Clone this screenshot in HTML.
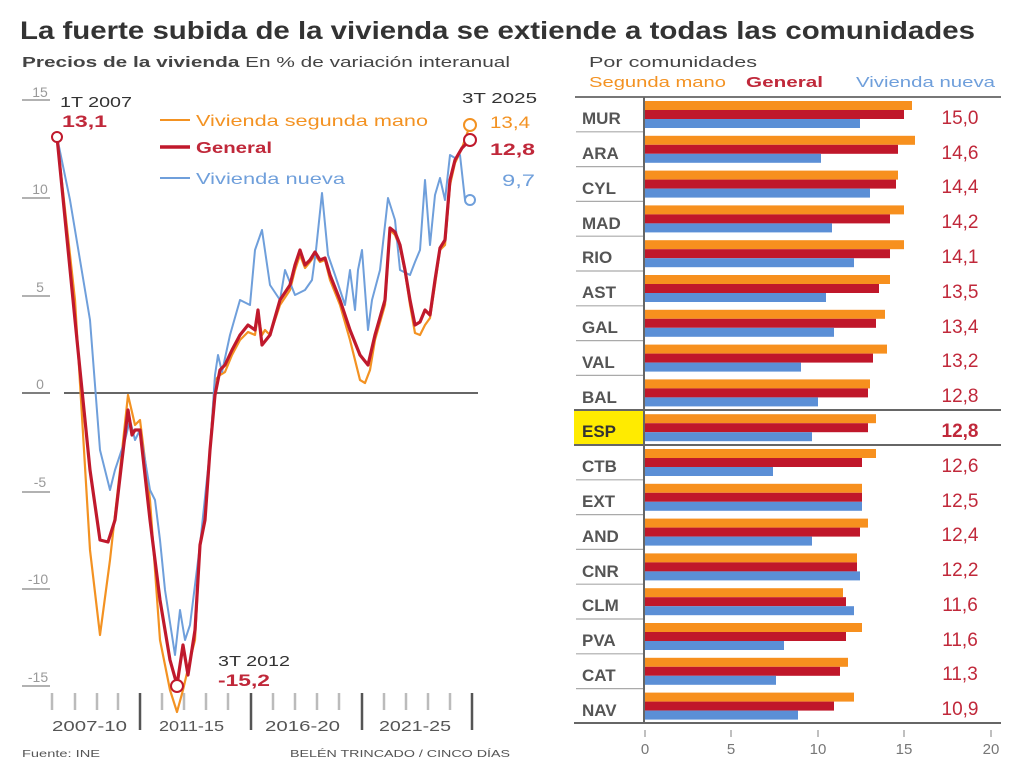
<!DOCTYPE html>
<html><head><meta charset="utf-8"><style>
body{margin:0;background:#fff;}
svg{display:block;font-family:"Liberation Sans",sans-serif;}
</style></head><body>
<svg width="1024" height="768" viewBox="0 0 1024 768" xmlns="http://www.w3.org/2000/svg">
<rect width="1024" height="768" fill="#fff"/>
<text x="20" y="39" font-size="25" font-weight="bold" fill="#333" textLength="955" lengthAdjust="spacingAndGlyphs">La fuerte subida de la vivienda se extiende a todas las comunidades</text>
<text x="22" y="67" font-size="15" fill="#444" textLength="488" lengthAdjust="spacingAndGlyphs"><tspan font-weight="bold">Precios de la vivienda</tspan> En % de variación interanual</text>
<g stroke="#999" stroke-width="1.5">
<line x1="22" y1="100" x2="50" y2="100"/><line x1="22" y1="198" x2="50" y2="198"/><line x1="22" y1="296" x2="50" y2="296"/><line x1="22" y1="492" x2="50" y2="492"/><line x1="22" y1="589" x2="50" y2="589"/><line x1="22" y1="686" x2="50" y2="686"/>
</g>
<line x1="22" y1="393" x2="50" y2="393" stroke="#555" stroke-width="1.5"/>
<line x1="64" y1="393" x2="478" y2="393" stroke="#333" stroke-width="1.5"/>
<g font-size="14" fill="#999" text-anchor="middle">
<text x="40" y="97">15</text><text x="40" y="194">10</text><text x="40" y="292">5</text><text x="40" y="389">0</text><text x="40" y="487">-5</text><text x="38" y="584">-10</text><text x="38" y="682">-15</text>
</g>
<g stroke="#bbb" stroke-width="2.5">
<line x1="52" y1="693" x2="52" y2="710"/><line x1="75" y1="693" x2="75" y2="710"/><line x1="97" y1="693" x2="97" y2="710"/><line x1="118" y1="693" x2="118" y2="710"/>
<line x1="162" y1="693" x2="162" y2="710"/><line x1="184" y1="693" x2="184" y2="710"/><line x1="206" y1="693" x2="206" y2="710"/><line x1="228" y1="693" x2="228" y2="710"/>
<line x1="273" y1="693" x2="273" y2="710"/><line x1="295" y1="693" x2="295" y2="710"/><line x1="317" y1="693" x2="317" y2="710"/><line x1="339" y1="693" x2="339" y2="710"/>
<line x1="384" y1="693" x2="384" y2="710"/><line x1="406" y1="693" x2="406" y2="710"/><line x1="428" y1="693" x2="428" y2="710"/><line x1="450" y1="693" x2="450" y2="710"/>
</g>
<g stroke="#555" stroke-width="2.5">
<line x1="140" y1="693" x2="140" y2="730"/><line x1="251" y1="693" x2="251" y2="730"/><line x1="362" y1="693" x2="362" y2="730"/><line x1="472" y1="693" x2="472" y2="730"/>
</g>
<g font-size="15" fill="#555">
<text x="52" y="731" textLength="75" lengthAdjust="spacingAndGlyphs">2007-10</text><text x="159" y="731" textLength="65" lengthAdjust="spacingAndGlyphs">2011-15</text><text x="265" y="731" textLength="75" lengthAdjust="spacingAndGlyphs">2016-20</text><text x="379" y="731" textLength="72" lengthAdjust="spacingAndGlyphs">2021-25</text>
</g>
<text x="22" y="757" font-size="10" fill="#555" textLength="78" lengthAdjust="spacingAndGlyphs">Fuente: INE</text>
<text x="290" y="757" font-size="10" fill="#555" textLength="220" lengthAdjust="spacingAndGlyphs">BELÉN TRINCADO / CINCO DÍAS</text>
<polyline fill="none" stroke="#f39222" stroke-width="2.2" stroke-linejoin="round" points="57,137 75,300 90,550 100,635 110,560 120,470 128,395 135,425 140,420 150,500 160,640 170,690 177,712 183,690 190,660 195,640 200,545 205,520 210,450 215,380 220,375 225,372 232,355 240,340 248,332 255,335 258,315 262,335 265,330 270,335 280,305 290,290 295,270 300,255 305,268 310,262 315,255 320,262 325,260 330,280 340,305 350,340 360,380 365,383 370,370 375,340 385,305 390,230 395,235 400,248 405,272 410,305 415,333 420,335 425,325 430,318 435,285 440,250 445,245 450,185 455,163 462,148 470,125"/>
<polyline fill="none" stroke="#6f9fdb" stroke-width="2" stroke-linejoin="round" points="57,137 70,200 90,320 100,450 110,490 115,470 125,440 130,420 135,440 140,430 150,490 155,500 160,540 165,590 175,655 180,610 185,640 190,625 200,545 210,450 215,375 218,355 222,372 230,335 240,300 250,305 255,250 262,230 270,285 280,300 285,270 295,295 305,290 312,280 316,250 322,193 328,255 335,275 340,290 345,305 350,270 355,310 358,270 362,250 368,330 372,300 380,270 388,198 395,220 400,270 410,275 415,262 420,250 425,180 430,245 435,195 440,178 445,200 450,155 455,158 460,155 465,200 470,200"/>
<polyline fill="none" stroke="#c0192c" stroke-width="3.2" stroke-linejoin="round" points="57,137 75,320 90,470 100,540 108,542 115,520 122,460 128,410 132,435 135,430 140,430 150,520 160,600 170,660 177,685 183,645 188,675 195,630 200,545 205,520 210,450 215,395 220,370 225,365 232,350 240,335 248,325 255,330 258,310 262,345 270,335 280,300 290,285 295,265 300,250 305,265 310,260 315,252 320,260 325,258 330,275 340,300 350,330 360,355 368,365 375,335 385,300 390,228 395,232 400,245 405,270 410,300 415,325 420,322 425,310 430,315 435,280 440,248 445,240 450,180 455,160 462,148 470,140"/>
<g fill="#fff" stroke-width="2">
<circle cx="57" cy="137" r="5" stroke="#c0192c"/><circle cx="177" cy="686" r="6" stroke="#c0192c"/>
<circle cx="470" cy="125" r="6" stroke="#f39222"/><circle cx="470" cy="140" r="6" stroke="#c0192c"/><circle cx="470" cy="200" r="5" stroke="#6f9fdb"/>
</g>
<text x="60" y="107" font-size="15" fill="#333" textLength="72" lengthAdjust="spacingAndGlyphs">1T 2007</text>
<text x="62" y="127" font-size="17" font-weight="bold" fill="#c0283a" textLength="45" lengthAdjust="spacingAndGlyphs">13,1</text>
<text x="218" y="666" font-size="15" fill="#333" textLength="72" lengthAdjust="spacingAndGlyphs">3T 2012</text>
<text x="218" y="686" font-size="17" font-weight="bold" fill="#c0283a" textLength="52" lengthAdjust="spacingAndGlyphs">-15,2</text>
<text x="462" y="103" font-size="15" fill="#333" textLength="75" lengthAdjust="spacingAndGlyphs">3T 2025</text>
<text x="490" y="128" font-size="17" fill="#f39222" textLength="40" lengthAdjust="spacingAndGlyphs">13,4</text>
<text x="490" y="155" font-size="17" font-weight="bold" fill="#c0283a" textLength="45" lengthAdjust="spacingAndGlyphs">12,8</text>
<text x="502" y="186" font-size="17" fill="#6f9fdb" textLength="33" lengthAdjust="spacingAndGlyphs">9,7</text>
<line x1="160" y1="120" x2="190" y2="120" stroke="#f39222" stroke-width="2"/>
<text x="196" y="126" font-size="16" fill="#f39222" textLength="232" lengthAdjust="spacingAndGlyphs">Vivienda segunda mano</text>
<line x1="160" y1="147" x2="190" y2="147" stroke="#c0192c" stroke-width="3.5"/>
<text x="196" y="153" font-size="16" font-weight="bold" fill="#c0283a" textLength="76" lengthAdjust="spacingAndGlyphs">General</text>
<line x1="160" y1="178" x2="190" y2="178" stroke="#6f9fdb" stroke-width="2"/>
<text x="196" y="184" font-size="16" fill="#6f9fdb" textLength="149" lengthAdjust="spacingAndGlyphs">Vivienda nueva</text>
<text x="589" y="67" font-size="15" fill="#444" textLength="168" lengthAdjust="spacingAndGlyphs">Por comunidades</text>
<text x="589" y="87" font-size="15" fill="#f39222" textLength="137" lengthAdjust="spacingAndGlyphs">Segunda mano</text>
<text x="746" y="87" font-size="15" font-weight="bold" fill="#c0283a" textLength="77" lengthAdjust="spacingAndGlyphs">General</text>
<text x="856" y="87" font-size="15" fill="#6f9fdb" textLength="139" lengthAdjust="spacingAndGlyphs">Vivienda nueva</text>
<line x1="575" y1="97" x2="1001" y2="97" stroke="#777" stroke-width="2"/>
<rect x="574" y="411" width="70" height="34" fill="#ffeb00"/>
<g stroke="#aaa" stroke-width="1.2">
<line x1="576" y1="131.8" x2="643" y2="131.8"/><line x1="576" y1="166.6" x2="643" y2="166.6"/><line x1="576" y1="201.4" x2="643" y2="201.4"/><line x1="576" y1="236.2" x2="643" y2="236.2"/><line x1="576" y1="271" x2="643" y2="271"/><line x1="576" y1="305.8" x2="643" y2="305.8"/><line x1="576" y1="340.6" x2="643" y2="340.6"/><line x1="576" y1="375.4" x2="643" y2="375.4"/><line x1="576" y1="479.8" x2="643" y2="479.8"/><line x1="576" y1="514.6" x2="643" y2="514.6"/><line x1="576" y1="549.4" x2="643" y2="549.4"/><line x1="576" y1="584.2" x2="643" y2="584.2"/><line x1="576" y1="619" x2="643" y2="619"/><line x1="576" y1="653.8" x2="643" y2="653.8"/><line x1="576" y1="688.6" x2="643" y2="688.6"/>
</g>
<g stroke="#666" stroke-width="2"><line x1="574" y1="410" x2="1001" y2="410"/><line x1="574" y1="445" x2="1001" y2="445"/><line x1="574" y1="723" x2="1001" y2="723"/></g>
<g>
<g transform="translate(0,97)"><rect x="645" y="4" width="267" height="9" fill="#f7901e"/><rect x="645" y="13" width="259" height="9" fill="#c0172a"/><rect x="645" y="22" width="215" height="9" fill="#5b8fd6"/></g>
<g transform="translate(0,131.8)"><rect x="645" y="4" width="270" height="9" fill="#f7901e"/><rect x="645" y="13" width="253" height="9" fill="#c0172a"/><rect x="645" y="22" width="176" height="9" fill="#5b8fd6"/></g>
<g transform="translate(0,166.6)"><rect x="645" y="4" width="253" height="9" fill="#f7901e"/><rect x="645" y="13" width="251" height="9" fill="#c0172a"/><rect x="645" y="22" width="225" height="9" fill="#5b8fd6"/></g>
<g transform="translate(0,201.4)"><rect x="645" y="4" width="259" height="9" fill="#f7901e"/><rect x="645" y="13" width="245" height="9" fill="#c0172a"/><rect x="645" y="22" width="187" height="9" fill="#5b8fd6"/></g>
<g transform="translate(0,236.2)"><rect x="645" y="4" width="259" height="9" fill="#f7901e"/><rect x="645" y="13" width="245" height="9" fill="#c0172a"/><rect x="645" y="22" width="209" height="9" fill="#5b8fd6"/></g>
<g transform="translate(0,271)"><rect x="645" y="4" width="245" height="9" fill="#f7901e"/><rect x="645" y="13" width="234" height="9" fill="#c0172a"/><rect x="645" y="22" width="181" height="9" fill="#5b8fd6"/></g>
<g transform="translate(0,305.8)"><rect x="645" y="4" width="240" height="9" fill="#f7901e"/><rect x="645" y="13" width="231" height="9" fill="#c0172a"/><rect x="645" y="22" width="189" height="9" fill="#5b8fd6"/></g>
<g transform="translate(0,340.6)"><rect x="645" y="4" width="242" height="9" fill="#f7901e"/><rect x="645" y="13" width="228" height="9" fill="#c0172a"/><rect x="645" y="22" width="156" height="9" fill="#5b8fd6"/></g>
<g transform="translate(0,375.4)"><rect x="645" y="4" width="225" height="9" fill="#f7901e"/><rect x="645" y="13" width="223" height="9" fill="#c0172a"/><rect x="645" y="22" width="173" height="9" fill="#5b8fd6"/></g>
<g transform="translate(0,410.2)"><rect x="645" y="4" width="231" height="9" fill="#f7901e"/><rect x="645" y="13" width="223" height="9" fill="#c0172a"/><rect x="645" y="22" width="167" height="9" fill="#5b8fd6"/></g>
<g transform="translate(0,445)"><rect x="645" y="4" width="231" height="9" fill="#f7901e"/><rect x="645" y="13" width="217" height="9" fill="#c0172a"/><rect x="645" y="22" width="128" height="9" fill="#5b8fd6"/></g>
<g transform="translate(0,479.8)"><rect x="645" y="4" width="217" height="9" fill="#f7901e"/><rect x="645" y="13" width="217" height="9" fill="#c0172a"/><rect x="645" y="22" width="217" height="9" fill="#5b8fd6"/></g>
<g transform="translate(0,514.6)"><rect x="645" y="4" width="223" height="9" fill="#f7901e"/><rect x="645" y="13" width="215" height="9" fill="#c0172a"/><rect x="645" y="22" width="167" height="9" fill="#5b8fd6"/></g>
<g transform="translate(0,549.4)"><rect x="645" y="4" width="212" height="9" fill="#f7901e"/><rect x="645" y="13" width="212" height="9" fill="#c0172a"/><rect x="645" y="22" width="215" height="9" fill="#5b8fd6"/></g>
<g transform="translate(0,584.2)"><rect x="645" y="4" width="198" height="9" fill="#f7901e"/><rect x="645" y="13" width="201" height="9" fill="#c0172a"/><rect x="645" y="22" width="209" height="9" fill="#5b8fd6"/></g>
<g transform="translate(0,619)"><rect x="645" y="4" width="217" height="9" fill="#f7901e"/><rect x="645" y="13" width="201" height="9" fill="#c0172a"/><rect x="645" y="22" width="139" height="9" fill="#5b8fd6"/></g>
<g transform="translate(0,653.8)"><rect x="645" y="4" width="203" height="9" fill="#f7901e"/><rect x="645" y="13" width="195" height="9" fill="#c0172a"/><rect x="645" y="22" width="131" height="9" fill="#5b8fd6"/></g>
<g transform="translate(0,688.6)"><rect x="645" y="4" width="209" height="9" fill="#f7901e"/><rect x="645" y="13" width="189" height="9" fill="#c0172a"/><rect x="645" y="22" width="153" height="9" fill="#5b8fd6"/></g>
</g>
<line x1="644" y1="97" x2="644" y2="723" stroke="#666" stroke-width="2"/>
<g font-size="17" font-weight="bold" fill="#555">
<text x="582" y="124">MUR</text><text x="582" y="159">ARA</text><text x="582" y="194">CYL</text><text x="582" y="229">MAD</text><text x="582" y="263">RIO</text><text x="582" y="298">AST</text><text x="582" y="333">GAL</text><text x="582" y="368">VAL</text><text x="582" y="403">BAL</text><text x="582" y="437" fill="#333">ESP</text><text x="582" y="472">CTB</text><text x="582" y="507">EXT</text><text x="582" y="542">AND</text><text x="582" y="577">CNR</text><text x="582" y="611">CLM</text><text x="582" y="646">PVA</text><text x="582" y="681">CAT</text><text x="582" y="716">NAV</text>
</g>
<g font-size="19" fill="#c0283a" text-anchor="middle">
<text x="960" y="124">15,0</text><text x="960" y="159">14,6</text><text x="960" y="193">14,4</text><text x="960" y="228">14,2</text><text x="960" y="263">14,1</text><text x="960" y="298">13,5</text><text x="960" y="333">13,4</text><text x="960" y="367">13,2</text><text x="960" y="402">12,8</text><text x="960" y="437" font-weight="bold">12,8</text><text x="960" y="472">12,6</text><text x="960" y="507">12,5</text><text x="960" y="541">12,4</text><text x="960" y="576">12,2</text><text x="960" y="611">11,6</text><text x="960" y="646">11,6</text><text x="960" y="680">11,3</text><text x="960" y="715">10,9</text>
</g>
<g stroke="#aaa" stroke-width="1.5"><line x1="645" y1="730" x2="645" y2="737"/><line x1="731" y1="730" x2="731" y2="737"/><line x1="818" y1="730" x2="818" y2="737"/><line x1="904" y1="730" x2="904" y2="737"/><line x1="991" y1="730" x2="991" y2="737"/></g>
<g font-size="15" fill="#777" text-anchor="middle"><text x="645" y="754">0</text><text x="731" y="754">5</text><text x="818" y="754">10</text><text x="904" y="754">15</text><text x="991" y="754">20</text></g>
</svg>
</body></html>
